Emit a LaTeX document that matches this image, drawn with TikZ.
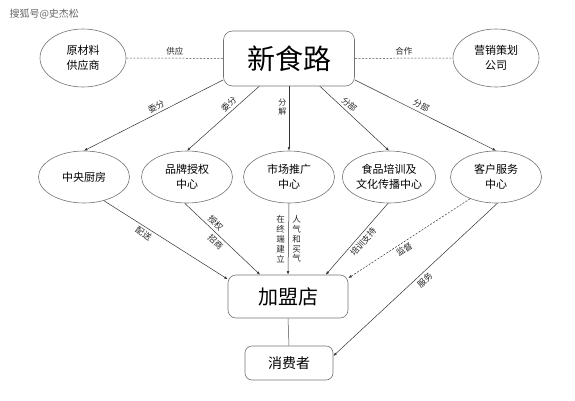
\documentclass[tikz,border=0pt]{standalone}
\usepackage{fontspec}
\setmainfont{Noto Sans CJK SC}
\usetikzlibrary{shapes.geometric,arrows.meta}

\begin{document}
\begin{tikzpicture}
	[x=1pt,y=1pt,
	oval/.style={ellipse,draw=black!55,line width=.6pt,minimum width=91pt,minimum height=52pt,inner sep=0pt,align=center,font=\fontsize{11}{15}\selectfont},
	hub/.style={rectangle,rounded corners=9pt,draw=black!55,line width=.6pt,inner sep=0pt},
	lab/.style={font=\fontsize{8.5}{10}\selectfont,inner sep=2.5pt,text=black!85},
	vlab/.style={lab,align=center,font=\fontsize{8.5}{9.8}\selectfont},
	link/.style={draw=black!80,line width=.5pt,-{Latex[length=3.5pt,width=2.6pt]}}]
	\useasboundingbox (0,0) rectangle (575,400);
	\node[anchor=west,font=\fontsize{10}{12}\selectfont,text=black!60] (wm) at (6,386) {搜狐号@史杰松};
	
	\node[hub,minimum width=131pt,minimum height=55pt,font=\fontsize{28}{30}\selectfont] (xin) at (289,341.5) {新食路};
	\node[oval,minimum width=86pt,minimum height=58pt] (ycl) at (83,342) {原材料\\供应商};
	\node[oval,minimum width=86pt,minimum height=58pt] (yx) at (496,342) {营销策划\\公司};
	
	\node[oval] (zy) at (84,223) {中央厨房};
	\node[oval] (pp) at (187,223) {品牌授权\\中心};
	\node[oval] (sc) at (289,223) {市场推广\\中心};
	\node[oval,minimum width=84pt] (sf) at (389,223) {食品培训及\\文化传播中心};
	\node[oval] (kf) at (496,223) {客户服务\\中心};
	
	\node[hub,rounded corners=8pt,minimum width=120pt,minimum height=43pt,font=\fontsize{20}{22}\selectfont] (jm) at (288,103.5) {加盟店};
	\node[hub,rounded corners=7pt,minimum width=88pt,minimum height=34pt,font=\fontsize{14}{16}\selectfont] (xf) at (289,37) {消费者};
	
	% partners
	\draw[draw=black!70,line width=.5pt,dash pattern=on 2pt off 1.5pt] (ycl) -- node[lab,above] {供应} (xin);
	\draw[draw=black!70,line width=.5pt,dash pattern=on 2pt off 1.5pt] (xin) -- node[lab,above] {合作} (yx);
	
	% top level
	\foreach \from/\to/\txt/\p in {198/zy/委分/.46,223/pp/委分/.36,-42/sf/分部/.36,-18/kf/分部/.45}
	\draw[link] (xin.\from) -- node[lab,sloped,above,pos=\p] {\txt} (\to.north);
	\draw[link] (xin.south) -- node[vlab,font=\fontsize{8}{9.5}\selectfont,left,pos=.32] {分\\解} (sc.north);
	
	% to franchise
	\draw[link] (zy.-50) -- node[lab,sloped,below,pos=.35] {配送} (jm.164);
	\draw[link] (pp.-95) -- node[lab,sloped,above,pos=.35] {授权} node[lab,sloped,below,pos=.47] {招商} (jm.142);
	\draw[link] (sc.south) -- node[vlab,left=1pt] {在\\终\\端\\建\\立} node[vlab,right=1pt] {人\\气\\和\\买\\气} (jm.north);
	\draw[link] (sf.-92) -- node[lab,sloped,below,pos=.48] {培训支持} (jm.30);
	\draw[link,dash pattern=on 2pt off 1.5pt] (kf.220) -- node[lab,sloped,below,pos=.57] {监督} (jm.17);
	\draw[link] (kf.-87) -- node[lab,sloped,below,pos=.47] {服务} (xf.9);
	\draw[draw=black!70,line width=.5pt] (jm.south) -- (xf.north);
	
\end{tikzpicture}
\end{document}
